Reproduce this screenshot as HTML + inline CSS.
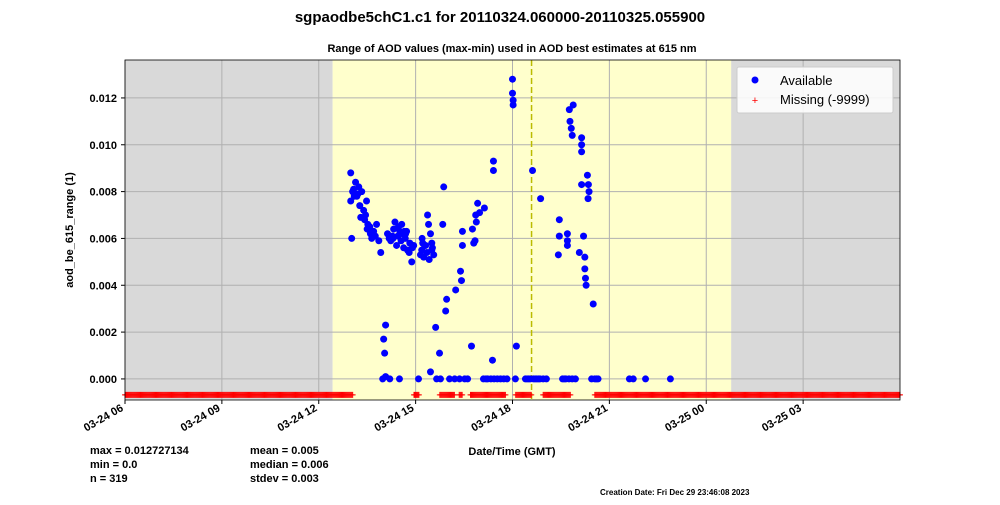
<!DOCTYPE html>
<html><head><meta charset="utf-8"><style>
body{margin:0;background:#fff;font-family:"Liberation Sans",sans-serif}
svg text{font-family:"Liberation Sans",sans-serif}
</style></head><body>
<svg id="chart" width="1000" height="500">
<text x="500" y="22" text-anchor="middle" font-size="15" font-weight="bold">sgpaodbe5chC1.c1 for 20110324.060000-20110325.055900</text>
<text x="512" y="52" text-anchor="middle" font-size="11" font-weight="bold">Range of AOD values (max-min) used in AOD best estimates at 615 nm</text>
<g id="plot"></g>
<text transform="translate(73,230) rotate(-90)" text-anchor="middle" font-size="11" font-weight="bold">aod_be_615_range (1)</text>
<text x="512" y="455" text-anchor="middle" font-size="11" font-weight="bold">Date/Time (GMT)</text>
<g font-size="11" font-weight="bold">
<text x="90" y="454">max = 0.012727134</text><text x="90" y="468">min = 0.0</text><text x="90" y="482">n = 319</text>
<text x="250" y="454">mean = 0.005</text><text x="250" y="468">median = 0.006</text><text x="250" y="482">stdev = 0.003</text>
</g>
<text x="600" y="495" font-size="8" font-weight="bold">Creation Date: Fri Dec 29 23:46:08 2023</text>
<g>
<rect x="737" y="67" width="156" height="46" fill="#fff" fill-opacity="0.85" stroke="#ccc" rx="2"/>
<circle cx="755" cy="80" r="3.5" fill="#0000ff"/><text x="780" y="85" font-size="13">Available</text>
<text x="755" y="104" font-size="11" fill="red" text-anchor="middle">+</text><text x="780" y="104" font-size="13">Missing (-9999)</text>
</g>
</svg>
<script>
const hours=[6.99,6.99,7.08,7.14,7.21,7.27,7.33,7.39,7.45,7.52,7.58,7.64,7.70,7.79,7.86,7.92,8.01,8.07,8.04,7.98,8.07,8.13,8.23,8.32,8.41,8.51,8.57,8.63,8.69,8.75,8.82,8.88,8.94,9.09,9.19,9.25,9.31,9.37,9.40,9.46,9.50,9.56,9.46,9.62,9.65,9.74,9.77,9.84,9.87,9.93,9.96,10.05,10.21,10.24,10.36,10.39,10.42,10.45,10.45,10.52,10.61,10.73,10.76,10.80,10.86,10.92,10.98,11.10,11.23,11.33,11.43,11.53,11.63,11.73,11.83,11.38,11.41,11.41,12.0,12.0,12.02,12.02,12.12,12.09,12.4,12.55,12.65,12.75,12.85,12.95,13.05,12.62,12.87,13.45,13.45,13.70,13.70,13.70,13.42,13.6,13.75,13.85,13.95,13.76,13.88,13.78,13.82,13.85,14.14,14.14,14.14,14.14,14.07,14.2,14.24,14.24,14.26,14.28,14.32,14.35,14.37,14.34,14.5,14.45,14.55,14.65,15.62,15.74,16.12,16.89,7.1,7.3,7.5,8.3,8.6,9.2,9.5,7.05,7.18,7.42,7.6,7.75,8.18,8.28,8.45,8.55,8.68,8.8,8.9,9.15,9.28,9.35,9.52,7.02,7.12,7.24,7.48,8.36,8.47,8.72,9.22,9.42,10.84,10.88,11.13,11.18,12.45,12.5,12.7,12.8,13.55,13.65,14.6,8.2,8.5,8.65];
const values=[0.0088,0.0076,0.0081,0.0084,0.0079,0.0074,0.0080,0.0072,0.0070,0.0066,0.0065,0.0060,0.0063,0.0066,0.0059,0.0054,0.0017,0.0023,0.0011,0,0.0001,0.0062,0.0059,0.0064,0.0057,0.0063,0.0066,0.0056,0.0062,0.0055,0.0058,0.0050,0.0057,0,0.0055,0.0052,0.0057,0.0070,0.0066,0.0062,0.0055,0.0053,0.0003,0.0022,0,0.0011,0,0.0066,0.0082,0.0029,0.0034,0,0,0.0038,0,0.0046,0.0042,0.0057,0.0063,0,0,0.0014,0.0064,0.0058,0.0070,0.0075,0.0071,0,0,0,0,0,0,0,0,0.0008,0.0093,0.0089,0.0128,0.0122,0.0119,0.0117,0.0014,0,0,0,0,0,0,0,0,0.0089,0.0077,0.0068,0.0061,0.0062,0.0059,0.0057,0.0053,0,0,0,0,0.0115,0.0117,0.0110,0.0107,0.0104,0.0103,0.0100,0.0097,0.0083,0.0054,0.0061,0.0052,0.0047,0.0043,0.0040,0.0087,0.0083,0.0080,0.0077,0.0032,0,0,0,0,0,0,0,0.0078,0.0069,0.0064,0.0060,0.0062,0.0060,0.0058,0.0080,0.0078,0.0068,0.0062,0.0061,0.0060,0.0061,0.0061,0.0059,0.0060,0.0054,0.0056,0.0053,0.0057,0.0054,0.0056,0.0060,0.0079,0.0082,0.0076,0.0067,0.0065,0.0063,0.0058,0.0051,0.0059,0.0067,0.0073,0,0,0,0,0,0,0,0,0,0,0.0063,0.0064,0.0063];
const missingSegments=[[0,7.05],[8.95,9.1],[9.75,10.2],[10.35,10.45],[10.7,11.8],[12.1,12.6],[12.95,13.8],[14.55,24]];
const yTicks=[0,0.002,0.004,0.006,0.008,0.010,0.012];
const xTickLabels=["03-24 06","03-24 09","03-24 12","03-24 15","03-24 18","03-24 21","03-25 00","03-25 03"];
const shade=[[0,6.43],[18.77,24]];
const highlight=[6.43,18.77];
const dashedAt=12.59;
const L=125,R=900,T=60,B=400,yMin=-0.0009,yMax=0.01362;
const X=h=>L+(R-L)*h/24, Y=v=>B-(B-T)*(v-yMin)/(yMax-yMin);
const NS="http://www.w3.org/2000/svg",g=document.getElementById('plot');
function mk(t,a,p){const e=document.createElementNS(NS,t);for(const k in a)e.setAttribute(k,a[k]);(p||g).appendChild(e);return e;}
mk('rect',{x:L,y:T,width:R-L,height:B-T,fill:'#fff'});
shade.forEach(s=>{const r=mk('rect',{x:X(s[0]),y:T,width:X(s[1])-X(s[0]),height:B-T,fill:'#d9d9d9'});

});
const hl=mk('rect',{x:X(highlight[0]),y:T,width:X(highlight[1])-X(highlight[0]),height:B-T,fill:'#ffffcc'});


yTicks.forEach(v=>{mk('line',{x1:L,x2:R,y1:Y(v),y2:Y(v),stroke:'#b0b0b0'});
mk('line',{x1:L-4,x2:L,y1:Y(v),y2:Y(v),stroke:'#000'});
const t=mk('text',{x:L-8,y:Y(v)+4,'text-anchor':'end','font-size':11,'font-weight':'bold'});t.textContent=v.toFixed(3);

});
xTickLabels.forEach((lab,i)=>{const x=X(i*3);mk('line',{x1:x,x2:x,y1:T,y2:B,stroke:'#b0b0b0'});
mk('line',{x1:x,x2:x,y1:B,y2:B+4,stroke:'#000'});
const t=mk('text',{transform:`translate(${x-1},${B+10}) rotate(-30)`,'text-anchor':'end','font-size':11,'font-weight':'bold'});t.textContent=lab;

});
const dl=mk('line',{x1:X(dashedAt),x2:X(dashedAt),y1:T,y2:B,stroke:'#bbbb00','stroke-width':1.5,'stroke-dasharray':'6,3'});


const mg=mk('g',{stroke:'red','stroke-width':1});


missingSegments.forEach(s=>{for(let h=s[0];h<=s[1]+1e-9;h+=0.03){const x=X(h),y=Y(-0.00068);
mk('path',{d:`M${x-3},${y}H${x+3}M${x},${y-3}V${y+3}`},mg);}});
const pg=mk('g',{fill:'#0000ff'});


hours.forEach((h,i)=>{mk('circle',{cx:X(h),cy:Y(values[i]),r:3.5},pg);});
mk('rect',{x:L,y:T,width:R-L,height:B-T,fill:'none',stroke:'#000','stroke-width':0.8});
</script>
</body></html>
